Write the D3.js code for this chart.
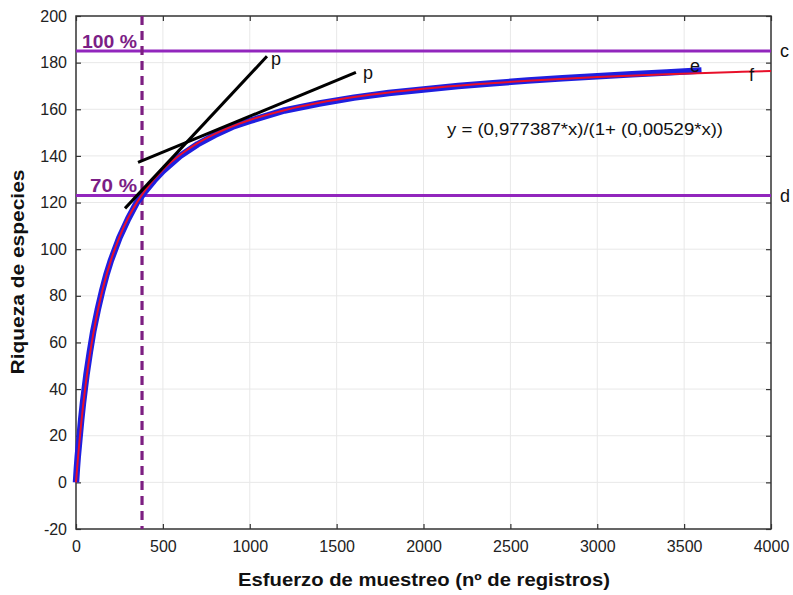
<!DOCTYPE html>
<html><head><meta charset="utf-8">
<script src="https://cdn.jsdelivr.net/npm/d3@7"></script>
<style>body{margin:0;background:#fff}svg{display:block}text{font-family:"Liberation Sans",Arial,sans-serif}</style>
</head><body><svg id="c" width="793" height="595"></svg>
<script>
// ---- data ----
const xTicks = [0,500,1000,1500,2000,2500,3000,3500,4000];
const yTicks = [-20,0,20,40,60,80,100,120,140,160,180,200];
const obsX = [0,5,10,20,30,40,50,60,80,100,125,150,175,200,250,300,350,400,450,500,600,700,800,900,1000,1200,1400,1600,1800,2000,2200,2400,2600,2800,3000,3200,3400,3600];
const obsY = [0,6,11,19,27,34,40,46,56,65,74,82,89,95,105,113,120,125,129.5,133.5,140,145,149,152.5,155,159.5,162.5,165,167,168.5,170,171.2,172.3,173.3,174.2,175,175.8,176.6];
const fitA = 0.977387, fitB = 0.00529;
const fitX = [0,5,10,20,30,40,60,80,100,130,160,200,250,300,350,400,500,600,700,800,1000,1200,1400,1600,1800,2000,2300,2600,3000,3400,3800,4000];
const level100 = 185, level70 = 123, xCut = 380;
const tangent1 = [[282,117.5],[1099,182.7]];
const tangent2 = [[357,137.2],[1611,175.8]];
const equation = "y = (0,977387*x)/(1+ (0,00529*x))";

// ---- chart ----
const svg = d3.select("#c");
const x = d3.scaleLinear().domain([0,4000]).range([76,771]);
const y = d3.scaleLinear().domain([-20,200]).range([529,16]);
const x0=76,x1=771,y0=529,y1=16;

// grid
svg.append("g").selectAll("line").data(xTicks.slice(1,-1)).join("line")
  .attr("x1",d=>x(d)).attr("x2",d=>x(d)).attr("y1",y1).attr("y2",y0)
  .attr("stroke","#e8e8e8").attr("stroke-width",1);
svg.append("g").selectAll("line").data(yTicks.slice(1,-1)).join("line")
  .attr("x1",x0).attr("x2",x1).attr("y1",d=>y(d)).attr("y2",d=>y(d))
  .attr("stroke","#e8e8e8").attr("stroke-width",1);

// axes
const fmt = d => String(d);
const ax = g=>{g.select(".domain").remove();g.selectAll(".tick line").attr("stroke","#333").attr("stroke-width",1.2);
  g.selectAll("text").attr("font-size",16).attr("fill","#222").style("font-family","'Liberation Sans',Arial,sans-serif");};
svg.append("g").attr("transform",`translate(0,${y0})`).call(d3.axisBottom(x).tickValues(xTicks).tickFormat(fmt).tickSize(-5).tickPadding(12)).call(ax);
svg.append("g").attr("transform",`translate(0,${y1})`).call(d3.axisTop(x).tickValues(xTicks).tickFormat("").tickSize(-5)).call(ax);
svg.append("g").attr("transform",`translate(${x0},0)`).call(d3.axisLeft(y).tickValues(yTicks).tickFormat(fmt).tickSize(-5).tickPadding(9)).call(ax);
svg.append("g").attr("transform",`translate(${x1},0)`).call(d3.axisRight(y).tickValues(yTicks).tickFormat("").tickSize(-5)).call(ax);
svg.append("rect").attr("x",x0).attr("y",y1).attr("width",x1-x0).attr("height",y0-y1)
  .attr("fill","none").attr("stroke","#333").attr("stroke-width",1.5);

// reference lines
svg.append("line").attr("x1",x0).attr("x2",x1).attr("y1",y(level100)).attr("y2",y(level100)).attr("stroke","#9226bd").attr("stroke-width",3);
svg.append("line").attr("x1",x0).attr("x2",x1).attr("y1",y(level70)).attr("y2",y(level70)).attr("stroke","#9226bd").attr("stroke-width",3);
svg.append("line").attr("x1",x(xCut)).attr("x2",x(xCut)).attr("y1",y1).attr("y2",y0)
  .attr("stroke","#7d1f82").attr("stroke-width",3.2).attr("stroke-dasharray","9,6");

// observed curve (blue)
const line = d3.line().x(d=>x(d[0])).y(d=>y(d[1])).curve(d3.curveLinear);
svg.append("path").datum(obsX.map((v,i)=>[v,obsY[i]])).attr("d",line)
  .attr("fill","none").attr("stroke","#1f1fe0").attr("stroke-width",6.5).attr("stroke-linejoin","round");
// fit (red)
svg.append("path").datum(fitX.map(v=>[v,fitA*v/(1+fitB*v)])).attr("d",d3.line().x(d=>x(d[0])).y(d=>y(d[1])).curve(d3.curveMonotoneX))
  .attr("fill","none").attr("stroke","#e8102a").attr("stroke-width",2);

// tangents
[tangent1,tangent2].forEach(t=>svg.append("path").datum(t).attr("d",line).attr("stroke","#000").attr("stroke-width",3).attr("fill","none"));

// labels
const T=(tx,ty,s,o={})=>{const t=svg.append("text").attr("x",tx).attr("y",ty).text(s)
  .attr("font-size",o.size||15).attr("font-weight",o.bold?"bold":"normal").attr("fill",o.fill||"#111")
  .attr("text-anchor",o.anchor||"start");
  if(o.len) t.attr("textLength",o.len).attr("lengthAdjust","spacingAndGlyphs"); return t;};
T(x(tangent1[1][0])+4,y(tangent1[1][1])+9,"p",{size:18});
T(x(tangent2[1][0])+7,y(tangent2[1][1])+7,"p",{size:18});
T(780,y(level100)+6,"c",{size:18});
T(780,y(level70)+6,"d",{size:18});
T(690,y(obsY[obsY.length-1])+1,"e",{size:18});
T(749,y(176)+9,"f",{size:18});
T(82,y(level100)-3,"100 %",{size:18,bold:true,fill:"#7b1e86",len:55});
T(90,y(level70)-4,"70 %",{size:18,bold:true,fill:"#7b1e86",len:47});
T(447,135,equation,{size:16.5,len:276});

svg.append("text").attr("transform","translate(24,272) rotate(-90)").attr("text-anchor","middle")
  .attr("font-size",18).attr("font-weight","bold").attr("fill","#111")
  .attr("textLength",205).attr("lengthAdjust","spacingAndGlyphs").text("Riqueza de especies");
svg.append("text").attr("x",424).attr("y",586).attr("text-anchor","middle")
  .attr("font-size",18).attr("font-weight","bold").attr("fill","#111")
  .attr("textLength",372).attr("lengthAdjust","spacingAndGlyphs").text("Esfuerzo de muestreo (nº de registros)");
</script></body></html>
